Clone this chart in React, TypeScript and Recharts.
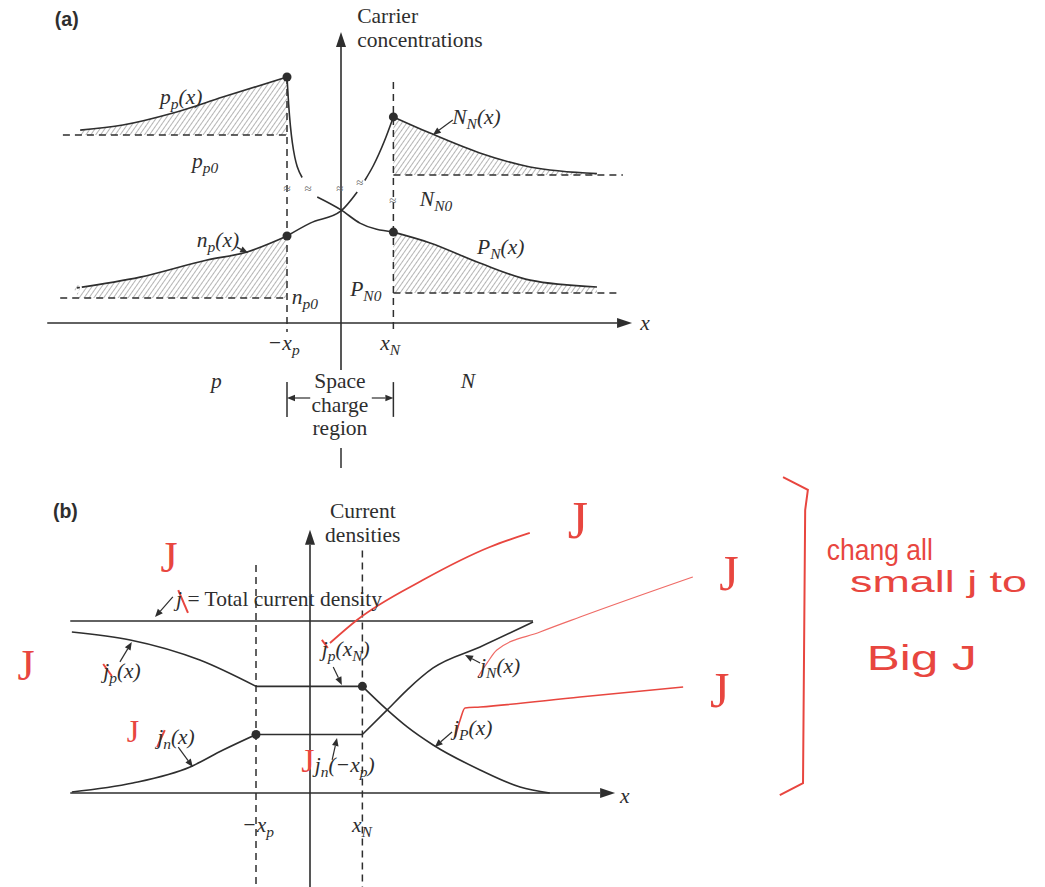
import React from 'react';
import { ComposedChart, Line, Area, XAxis, YAxis, ReferenceLine, ReferenceDot } from 'recharts';

const INK = '#2e2e2e';
const RED = '#e8463f';
const SERIF = '"Liberation Serif", "Times New Roman", serif';
const SANS = '"Liberation Sans", Arial, sans-serif';

// edges of the space charge region (same in both panels)
const XP = -1;
const XN = 0.97;

// (a) carrier concentrations, arbitrary units
const PP0 = 6.27;
const NP0 = 0.83;
const NN0 = 4.93;
const PN0 = 1.0;

const holesP = [
  { x: -4.83, y: 6.43 },
  { x: -4.04, y: 6.6 },
  { x: -3.11, y: 7.0 },
  { x: -2.19, y: 7.53 },
  { x: XP, y: 8.2 },
];
const electronsP = [
  { x: -4.89, y: 1.17 },
  { x: -3.72, y: 1.53 },
  { x: -2.48, y: 2.1 },
  { x: -1.74, y: 2.37 },
  { x: XP, y: 2.9 },
];
const electronsN = [
  { x: XN, y: 6.87 },
  { x: 1.65, y: 6.33 },
  { x: 2.57, y: 5.67 },
  { x: 3.5, y: 5.2 },
  { x: 4.74, y: 4.98 },
];
const holesN = [
  { x: XN, y: 3.03 },
  { x: 1.65, y: 2.67 },
  { x: 2.57, y: 2.0 },
  { x: 3.5, y: 1.43 },
  { x: 4.74, y: 1.2 },
];
// across the depletion region, broken where the scale jumps
const holesSCR = [
  { x: XP, y: 8.2 },
  { x: -0.97, y: 7.3 },
  { x: -0.9, y: 6.0 },
  { x: -0.72, y: 4.85 },
  { x: -0.58, y: null },
  { x: -0.44, y: 4.2 },
  { x: 0, y: 3.77 },
  { x: 0.35, y: 3.33 },
  { x: XN, y: 3.03 },
];
const electronsSCR = [
  { x: XP, y: 2.9 },
  { x: -0.57, y: 3.33 },
  { x: 0, y: 3.74 },
  { x: 0.3, y: 4.37 },
  { x: 0.37, y: null },
  { x: 0.44, y: 4.75 },
  { x: 0.6, y: 5.25 },
  { x: 0.8, y: 6.05 },
  { x: XN, y: 6.87 },
];

// (b) current densities, total J = 10
const J_TOTAL = 10;
const JP_SCR = 6.2;
const JN_SCR = 3.4;

const jpLeft = [
  { x: -4.41, y: 9.36 },
  { x: -3.33, y: 8.9 },
  { x: -2.04, y: 7.73 },
  { x: XP, y: JP_SCR },
];
const jpRight = [
  { x: XN, y: JP_SCR },
  { x: 1.43, y: 4.83 },
  { x: 1.8, y: 3.84 },
  { x: 2.28, y: 2.79 },
  { x: 3.15, y: 1.34 },
  { x: 3.89, y: 0.35 },
  { x: 4.44, y: 0 },
];
const jnLeft = [
  { x: -4.41, y: 0.06 },
  { x: -3.28, y: 0.58 },
  { x: -2.22, y: 1.51 },
  { x: -1.61, y: 2.5 },
  { x: XP, y: JN_SCR },
];
const jnRight = [
  { x: XN, y: JN_SCR },
  { x: 1.43, y: 4.83 },
  { x: 1.8, y: 6.0 },
  { x: 2.28, y: 7.27 },
  { x: 3.15, y: 8.49 },
  { x: 4.13, y: 9.94 },
];
const jpFlat = [
  { x: XP, y: JP_SCR },
  { x: XN, y: JP_SCR },
];
const jnFlat = [
  { x: XP, y: JN_SCR },
  { x: XN, y: JN_SCR },
];
const jTotal = [
  { x: -4.44, y: J_TOTAL },
  { x: 4.13, y: J_TOTAL },
];

// red markup
const markup1 = [
  { x: 0.37, y: 8.72 },
  { x: 0.87, y: 10.06 },
  { x: 2.09, y: 12.38 },
  { x: 3.33, y: 14.3 },
  { x: 4.07, y: 15.12 },
];
const markup2 = [
  { x: 3.11, y: 6.74 },
  { x: 3.28, y: 7.56 },
  { x: 3.46, y: 8.31 },
  { x: 4.26, y: 9.36 },
  { x: 5.0, y: 10.23 },
  { x: 7.09, y: 12.56 },
];
const markup3 = [
  { x: 2.69, y: 3.26 },
  { x: 2.78, y: 4.24 },
  { x: 2.87, y: 4.94 },
  { x: 3.15, y: 5.0 },
  { x: 5.0, y: 5.58 },
  { x: 6.91, y: 6.16 },
];
const bracket = [
  { x: 8.76, y: 18.37 },
  { x: 9.22, y: 17.62 },
  { x: 9.17, y: 16.45 },
  { x: 9.13, y: 0.58 },
  { x: 8.7, y: -0.12 },
];

// text with subscripts: parts starting with '_' are lowered
const m = (...parts: string[]) => {
  let low = false;
  return parts.map((s, i) => {
    const isSub = s.startsWith('_');
    const dy = isSub && !low ? 5 : !isSub && low ? -5 : 0;
    low = isSub;
    return (
      <tspan key={i} dy={dy} fontSize={isSub ? '0.72em' : undefined}>
        {isSub ? s.slice(1) : s}
      </tspan>
    );
  });
};

type NoteOpts = {
  anchor?: 'start' | 'middle' | 'end';
  size?: number;
  italic?: boolean;
  family?: string;
  weight?: string;
  color?: string;
  fit?: number;
};

const note = (key: string, x: number, y: number, content: React.ReactNode, o: NoteOpts = {}) => (
  <ReferenceDot
    key={key}
    x={x}
    y={y}
    r={0}
    ifOverflow="visible"
    shape={(p: any) => (
      <text
        x={p.cx}
        y={p.cy}
        textAnchor={o.anchor ?? 'start'}
        fontSize={o.size ?? 21.5}
        fontStyle={o.italic ? 'italic' : 'normal'}
        fontFamily={o.family ?? SERIF}
        fontWeight={o.weight ?? 'normal'}
        fill={o.color ?? INK}
        textLength={o.fit}
        lengthAdjust={o.fit ? 'spacingAndGlyphs' : undefined}
      >
        {content}
      </text>
    )}
  />
);

const arrow = (len: number, half: number, color: string, width: number) => (p: any) => {
  const { x1, y1, x2, y2 } = p;
  const a = Math.atan2(y2 - y1, x2 - x1);
  const bx = x2 - len * Math.cos(a);
  const by = y2 - len * Math.sin(a);
  const nx = -Math.sin(a) * half;
  const ny = Math.cos(a) * half;
  return (
    <g>
      <line x1={x1} y1={y1} x2={bx} y2={by} stroke={color} strokeWidth={width} />
      <polygon points={`${x2},${y2} ${bx + nx},${by + ny} ${bx - nx},${by - ny}`} fill={color} />
    </g>
  );
};

const seg = (key: string, x1: number, y1: number, x2: number, y2: number, extra: any = {}) => (
  <ReferenceLine
    key={key}
    segment={[
      { x: x1, y: y1 },
      { x: x2, y: y2 },
    ]}
    stroke={INK}
    strokeWidth={1.5}
    ifOverflow="visible"
    {...extra}
  />
);

const dashed = { strokeDasharray: '7 5', strokeWidth: 1.5 };
const pointer = { shape: arrow(8, 3.3, INK, 1.2) };
const axisArrow = { shape: arrow(15, 5, INK, 1.6) };
const redStroke = { stroke: RED, strokeWidth: 2 };

const curve = (key: string, data: any[], color = INK, width = 1.6, type: any = 'monotone') => (
  <Line
    key={key}
    data={data}
    dataKey="y"
    type={type}
    stroke={color}
    strokeWidth={width}
    dot={false}
    activeDot={false}
    isAnimationActive={false}
  />
);

const hatch = (key: string, data: any[], base: number) => (
  <Area
    key={key}
    data={data}
    dataKey="y"
    type="monotone"
    baseValue={base}
    stroke="none"
    fill="url(#hatch)"
    fillOpacity={1}
    isAnimationActive={false}
  />
);

function CarrierPanel() {
  return (
    <ComposedChart width={1053} height={480} margin={{ top: 0, right: 0, bottom: 0, left: 0 }}>
      <defs>
        <pattern id="hatch" width="4" height="4" patternUnits="userSpaceOnUse" patternTransform="rotate(35)">
          <line x1="0" y1="0" x2="0" y2="4" stroke="#777" strokeWidth="1.1" />
        </pattern>
      </defs>
      <XAxis type="number" dataKey="x" domain={[-6.5, 13]} hide allowDataOverflow />
      <YAxis type="number" domain={[-5.2, 10.8]} hide allowDataOverflow />

      {hatch('hp', holesP, PP0)}
      {hatch('hn', electronsP, NP0)}
      {hatch('hN', electronsN, NN0)}
      {hatch('hP', holesN, PN0)}

      {/* axes */}
      {seg('xa', -5.44, 0, 5.39, 0, axisArrow)}
      {seg('ya', 0, -1.57, 0, 9.7, axisArrow)}
      {seg('yb', 0, -4.17, 0, -4.83)}

      {/* junction edges and equilibrium levels */}
      {seg('exp', XP, 8.2, XP, -0.3, dashed)}
      {seg('exn', XN, 8.03, XN, -0.3, dashed)}
      {seg('lpp', -5.15, PP0, XP, PP0, dashed)}
      {seg('lnp', -5.2, NP0, XP, NP0, dashed)}
      {seg('lnn', XN, NN0, 5.22, NN0, dashed)}
      {seg('lpn', XN, PN0, 5.11, PN0, dashed)}

      {curve('cp', holesP)}
      {curve('cn', electronsP)}
      {curve('cN', electronsN)}
      {curve('cP', holesN)}
      {curve('sp', holesSCR)}
      {curve('sn', electronsSCR)}

      <ReferenceDot x={XP} y={8.2} r={4.5} fill={INK} stroke="none" />
      <ReferenceDot x={XP} y={2.9} r={4.5} fill={INK} stroke="none" />
      <ReferenceDot x={XN} y={6.87} r={4.5} fill={INK} stroke="none" />
      <ReferenceDot x={XN} y={3.03} r={4.5} fill={INK} stroke="none" />

      {/* space charge bracket */}
      {seg('bl', XP, -1.97, XP, -3.13)}
      {seg('br', XN, -1.97, XN, -3.13)}
      {seg('al', -0.57, -2.5, XP, -2.5, pointer)}
      {seg('ar', 0.57, -2.5, XN, -2.5, pointer)}

      {seg('pn', -1.93, 2.53, -1.72, 2.33, pointer)}
      {seg('pN', 2.07, 6.77, 1.7, 6.27, pointer)}

      {[
        [-1.0, 4.35],
        [-0.61, 4.35],
        [-0.02, 4.35],
        [0.35, 4.55],
        [0.96, 3.95],
      ].map(([x, y], i) => note(`br${i}`, x, y, '≈', { anchor: 'middle', size: 13, color: '#666' }))}

      {note('a', -5.3, 9.9, '(a)', { family: SANS, weight: 'bold', size: 19.5 })}
      {note('t1', 0.3, 10.0, 'Carrier')}
      {note('t2', 0.3, 9.2, 'concentrations')}
      {note('l1', -3.35, 7.3, m('p', '_p', '(x)'), { italic: true })}
      {note('l2', -2.76, 5.17, m('p', '_p0'), { italic: true })}
      {note('l3', -2.67, 2.53, m('n', '_p', '(x)'), { italic: true })}
      {note('l4', -0.91, 0.63, m('n', '_p0'), { italic: true })}
      {note('l5', 2.06, 6.63, m('N', '_N', '(x)'), { italic: true })}
      {note('l6', 1.46, 3.9, m('N', '_N0'), { italic: true })}
      {note('l7', 2.52, 2.3, m('P', '_N', '(x)'), { italic: true })}
      {note('l8', 0.17, 0.9, m('P', '_N0'), { italic: true })}
      {note('xl', 5.54, -0.23, 'x', { italic: true })}
      {note('k1', -1.06, -0.9, m('−x', '_p'), { italic: true, anchor: 'middle' })}
      {note('k2', 0.91, -0.9, m('x', '_N'), { italic: true, anchor: 'middle' })}
      {note('rp', -2.31, -2.17, 'p', { italic: true, anchor: 'middle' })}
      {note('rN', 2.35, -2.17, 'N', { italic: true, anchor: 'middle' })}
      {note('s1', -0.02, -2.17, 'Space', { anchor: 'middle' })}
      {note('s2', -0.02, -2.97, 'charge', { anchor: 'middle' })}
      {note('s3', -0.02, -3.73, 'region', { anchor: 'middle' })}
    </ComposedChart>
  );
}

function CurrentPanel() {
  return (
    <ComposedChart width={1053} height={411.6} margin={{ top: 0, right: 0, bottom: 0, left: 0 }}>
      <XAxis type="number" dataKey="x" domain={[-6, 13.5]} hide allowDataOverflow />
      <YAxis type="number" domain={[-5.5, 18.43]} hide allowDataOverflow />

      {seg('xa', -4.44, 0, 5.65, 0, axisArrow)}
      {seg('ya', 0, -5.5, 0, 15.3, axisArrow)}
      {seg('exp', XP, 13.26, XP, -5.5, dashed)}
      {seg('exn', XN, 14.1, XN, -5.5, dashed)}

      {curve('jt', jTotal, INK, 1.6, 'linear')}
      {curve('jp1', jpLeft)}
      {curve('jp2', jpFlat, INK, 1.6, 'linear')}
      {curve('jp3', jpRight)}
      {curve('jn1', jnLeft)}
      {curve('jn2', jnFlat, INK, 1.6, 'linear')}
      {curve('jn3', jnRight)}

      <ReferenceDot x={XP} y={JN_SCR} r={4.5} fill={INK} stroke="none" />
      <ReferenceDot x={XN} y={JP_SCR} r={4.5} fill={INK} stroke="none" />

      {seg('p1', -2.54, 11.4, -2.87, 10.23, pointer)}
      {seg('p2', -3.52, 7.62, -3.3, 8.78, pointer)}
      {seg('p3', -2.44, 2.67, -2.17, 1.51, pointer)}
      {seg('p4', 0.43, 7.33, 0.59, 6.28, pointer)}
      {seg('p5', 0.41, 1.92, 0.5, 3.2, pointer)}
      {seg('p6', 3.15, 7.56, 2.87, 8.02, pointer)}
      {seg('p7', 2.63, 3.55, 2.31, 2.67, pointer)}

      {note('b', -4.76, 15.99, '(b)', { family: SANS, weight: 'bold', size: 19.5 })}
      {note('t1', 0.37, 15.99, 'Current')}
      {note('t2', 0.28, 14.6, 'densities')}
      {note(
        'tot',
        -2.48,
        10.87,
        <>
          <tspan fontStyle="italic">j</tspan>
          <tspan> = Total current density</tspan>
        </>,
      )}
      {note('l1', -3.83, 6.69, m('j', '_p', '(x)'), { italic: true })}
      {note('l2', -2.83, 2.85, m('j', '_n', '(x)'), { italic: true })}
      {note('l3', 0.22, 7.97, m('j', '_p', '(x', '_N', ')'), { italic: true })}
      {note('l4', 0.09, 1.22, m('j', '_n', '(−x', '_p', ')'), { italic: true })}
      {note('l5', 3.15, 6.98, m('j', '_N', '(x)'), { italic: true })}
      {note('l6', 2.65, 3.37, m('j', '_P', '(x)'), { italic: true })}
      {note('xl', 5.74, -0.58, 'x', { italic: true })}
      {note('k1', -0.96, -2.27, m('−x', '_p'), { italic: true, anchor: 'middle' })}
      {note('k2', 0.96, -2.27, m('x', '_N'), { italic: true, anchor: 'middle' })}

      {/* red markup */}
      {curve('r1', markup1, RED, 1.8)}
      {curve('r2', markup2, '#ef6b66', 1.2)}
      {curve('r3', markup3, RED, 1.6)}
      {curve('rb', bracket, RED, 2, 'linear')}
      {seg('x1', -2.44, 11.8, -2.26, 10.47, redStroke)}
      {seg('x2', -3.83, 7.5, -3.67, 6.8, redStroke)}
      {seg('x3', -2.83, 2.67, -2.69, 3.66, redStroke)}
      {seg('x4', 0.22, 8.9, 0.33, 8.43, redStroke)}
      {[
        [-2.61, 12.85, 44],
        [-5.26, 6.57, 44],
        [-3.28, 2.97, 32],
        [-0.04, 1.22, 34],
        [4.96, 14.83, 52],
        [7.76, 11.8, 50],
        [7.59, 5.0, 50],
      ].map(([x, y, s], i) => note(`J${i}`, x, y, 'J', { anchor: 'middle', size: s, color: RED }))}
      {note('h1', 9.57, 13.55, 'chang all', { family: SANS, size: 30, color: RED, fit: 106 })}
      {note('h2', 10.0, 11.69, 'small j to', { family: SANS, size: 30, color: RED, fit: 177 })}
      {note('h3', 10.31, 7.15, 'Big  J', { family: SANS, size: 36, color: RED, fit: 110 })}
    </ComposedChart>
  );
}

export default function App() {
  return (
    <div style={{ position: 'relative', width: 1045, height: 887, overflow: 'hidden', background: '#fff' }}>
      <style>{'body{margin:0}'}</style>
      <div style={{ position: 'absolute', left: -10, top: -1 }}>
        <CarrierPanel />
      </div>
      <div style={{ position: 'absolute', left: -14, top: 476 }}>
        <CurrentPanel />
      </div>
    </div>
  );
}
